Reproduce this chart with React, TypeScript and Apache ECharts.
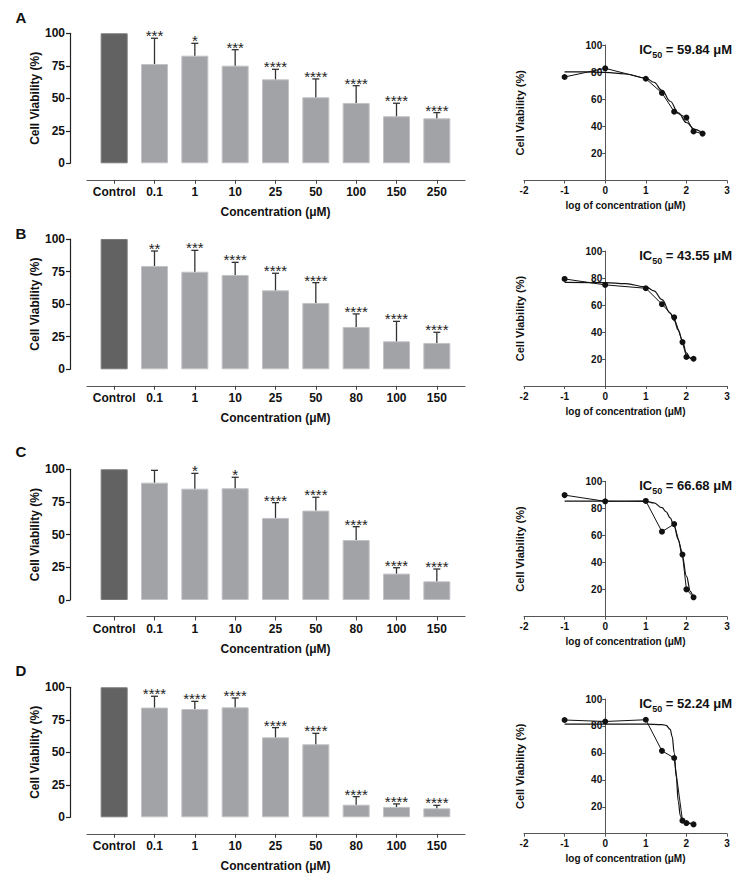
import React, { useEffect, useRef } from "react";
import * as echarts from "echarts";

// ---------- data ----------
const LETTERS = ["A", "B", "C", "D"];
const CATS_A = ["Control", "0.1", "1", "10", "25", "50", "100", "150", "250"];
const CATS_BCD = ["Control", "0.1", "1", "10", "25", "50", "80", "100", "150"];

const MEAN_A = [100, 76.4, 82.8, 75.1, 64.6, 50.8, 46.4, 36.2, 34.6];
const SD_A = [0, 19.8, 9.5, 12.3, 7.7, 14.1, 13.3, 10.0, 4.4];
const STARS_A = ["", "***", "*", "***", "****", "****", "****", "****", "****"];

const MEAN_B = [100, 79.3, 74.9, 72.4, 60.6, 50.9, 32.5, 21.5, 20.2];
const SD_B = [0, 11.5, 16.4, 9.7, 13.1, 15.6, 10.0, 15.3, 8.2];
const STARS_B = ["", "**", "***", "****", "****", "****", "****", "****", "****"];

const MEAN_C = [100, 89.8, 85.2, 85.5, 62.8, 68.4, 45.9, 20.2, 14.3];
const SD_C = [0, 9.4, 11.7, 8.4, 11.7, 10.2, 10.2, 4.5, 9.4];
const STARS_C = ["", "", "*", "*", "****", "****", "****", "****", "****"];

const MEAN_D = [100, 84.4, 83.3, 84.6, 61.5, 56.2, 9.7, 7.9, 6.9];
const SD_D = [0, 8.7, 5.9, 7.2, 7.5, 8.4, 6.2, 2.4, 2.3];
const STARS_D = ["", "****", "****", "****", "****", "****", "****", "****", "****"];

const LOGX_A = [-1, 0, 1, 1.398, 1.699, 2, 2.176, 2.398];
const LOGX_BCD = [-1, 0, 1, 1.398, 1.699, 1.903, 2, 2.176];

const FITX_A = [-1, -0.5, 0, 0.5, 1, 1.2, 1.4, 1.6, 1.8, 2, 2.2, 2.4];
const FITY_A = [80.2, 80.1, 79.8, 78.6, 75.6, 72.5, 66.5, 58.5, 50, 42.8, 37.8, 35];
const FITX_B = [-1, 0, 0.5, 1, 1.2, 1.4, 1.6, 1.7, 1.8, 1.9, 2, 2.1, 2.18];
const FITY_B = [76.8, 76.6, 75.8, 73.5, 70.5, 64, 54, 48.5, 41.5, 33.5, 24.5, 20.5, 18.5];
const FITX_C = [-1, 0, 1, 1.2, 1.4, 1.5, 1.6, 1.7, 1.8, 1.9, 2, 2.1, 2.18];
const FITY_C = [85.3, 85.3, 85.2, 84, 80.5, 77.5, 73, 66.5, 57, 44.5, 30, 18.5, 12.5];
const FITX_D = [-1, 0, 1, 1.4, 1.5, 1.6, 1.65, 1.7, 1.75, 1.8, 1.85, 1.9, 2, 2.18];
const FITY_D = [81.3, 81.3, 81.3, 81, 80.4, 77.5, 72, 60, 42, 24, 13.5, 9.8, 8, 7];

const IC50 = ["59.84", "43.55", "66.68", "52.24"];

// ---------- layout ----------
const FONT = '"Liberation Sans", Arial, sans-serif';
const BAR_GRID = [
  { top: 33.3, h: 130 },
  { top: 239, h: 130.3 },
  { top: 469.3, h: 130.7 },
  { top: 687.3, h: 130 },
];
const IC_LEFT = 524;
const IC_WIDTH = 203;
const IC_XMIN = -2;
const IC_XMAX = 3;
const IC_GRID = [
  { top: 45, h: 135.5 },
  { top: 251, h: 135 },
  { top: 481.3, h: 135.4 },
  { top: 699, h: 134.7 },
];
const LETTER_Y = [17, 233, 451.5, 670.5];

const PANELS = [
  { cats: CATS_A, mean: MEAN_A, sd: SD_A, stars: STARS_A, logx: LOGX_A, fx: FITX_A, fy: FITY_A },
  { cats: CATS_BCD, mean: MEAN_B, sd: SD_B, stars: STARS_B, logx: LOGX_BCD, fx: FITX_B, fy: FITY_B },
  { cats: CATS_BCD, mean: MEAN_C, sd: SD_C, stars: STARS_C, logx: LOGX_BCD, fx: FITX_C, fy: FITY_C },
  { cats: CATS_BCD, mean: MEAN_D, sd: SD_D, stars: STARS_D, logx: LOGX_BCD, fx: FITX_D, fy: FITY_D },
];

function buildOption() {
  const grid: any[] = [];
  const xAxis: any[] = [];
  const yAxis: any[] = [];
  const series: any[] = [];
  const graphic: any[] = [];

  const bold12 = { fontFamily: FONT, fontWeight: "bold", fontSize: 12, color: "#111" };
  const bold10 = { fontFamily: FONT, fontWeight: "bold", fontSize: 10, color: "#111" };
  // y axis of the IC50 plots sits at x = 0
  const zeroOffset = -((0 - IC_XMIN) / (IC_XMAX - IC_XMIN)) * IC_WIDTH;

  PANELS.forEach((p, i) => {
    grid[i] = { left: 94, width: 363, top: BAR_GRID[i].top, height: BAR_GRID[i].h };
    grid[4 + i] = { left: IC_LEFT, width: IC_WIDTH, top: IC_GRID[i].top, height: IC_GRID[i].h };
    grid[8 + i] = { left: 87, width: 378, top: BAR_GRID[i].top, height: BAR_GRID[i].h };
  });

  PANELS.forEach((p, i) => {
    // bar chart axes
    xAxis[i] = {
      gridIndex: i,
      type: "category",
      data: p.cats,
      offset: 16.5,
      axisLine: { show: false, onZero: false },
      axisTick: { show: true, alignWithLabel: true, length: 4, lineStyle: { color: "#444", width: 1 } },
      axisLabel: { ...bold12, margin: 6, interval: 0 },
      splitLine: { show: false },
      name: "Concentration (μM)",
      nameLocation: "middle",
      nameGap: 26,
      nameTextStyle: { ...bold12 },
    };
    yAxis[i] = {
      gridIndex: i,
      type: "value",
      min: 0,
      max: 100,
      interval: 25,
      offset: 24,
      axisLine: { show: true, lineStyle: { color: "#222", width: 1.2 } },
      axisTick: { show: true, length: 4, lineStyle: { color: "#222", width: 1.2 } },
      axisLabel: { ...bold12, margin: 5 },
      splitLine: { show: false },
      name: "Cell Viability (%)",
      nameLocation: "middle",
      nameGap: 29,
      nameTextStyle: { ...bold12 },
    };
    // IC50 axes
    xAxis[4 + i] = {
      gridIndex: 4 + i,
      type: "value",
      min: IC_XMIN,
      max: IC_XMAX,
      interval: 1,
      axisLine: { show: true, onZero: false, lineStyle: { color: "#555", width: 1 } },
      axisTick: { show: true, length: 3, lineStyle: { color: "#555" } },
      axisLabel: { ...bold10, margin: 5 },
      splitLine: { show: false },
      name: "log of concentration (μM)",
      nameLocation: "middle",
      nameGap: 20,
      nameTextStyle: { ...bold10 },
    };
    yAxis[4 + i] = {
      gridIndex: 4 + i,
      type: "value",
      min: 0,
      max: 100,
      interval: 20,
      offset: zeroOffset,
      axisLine: { show: true, onZero: false, lineStyle: { color: "#555", width: 1 } },
      axisTick: { show: true, length: 3, lineStyle: { color: "#555" } },
      axisLabel: { ...bold10, margin: 3, formatter: (v: number) => (v === 0 ? "" : String(v)) },
      splitLine: { show: false },
      name: "Cell Viability (%)",
      nameLocation: "middle",
      nameGap: 79.5,
      nameTextStyle: { ...bold10, fontSize: 11 },
    };
    // decorative long x axis line for bar charts
    xAxis[8 + i] = {
      gridIndex: 8 + i,
      type: "value",
      min: 0,
      max: 1,
      offset: 16.5,
      axisLine: { show: true, onZero: false, lineStyle: { color: "#555", width: 1.2 } },
      axisTick: { show: false },
      axisLabel: { show: false },
      splitLine: { show: false },
    };
    yAxis[8 + i] = { gridIndex: 8 + i, type: "value", min: 0, max: 1, show: false };

    // bars
    series.push({
      type: "bar",
      xAxisIndex: i,
      yAxisIndex: i,
      barWidth: 27,
      silent: true,
      data: p.mean.map((v, j) => ({
        value: v,
        itemStyle:
          j === 0
            ? { color: "#626262", borderColor: "#7a7a7a", borderWidth: 1 }
            : { color: "#a2a3a6", borderColor: "#c2c3c6", borderWidth: 1 },
      })),
    });
    // error bars + significance stars
    series.push({
      type: "custom",
      xAxisIndex: i,
      yAxisIndex: i,
      z: 5,
      silent: true,
      data: p.mean.map((m, j) => [j, m, m + p.sd[j]]),
      renderItem: (params: any, api: any) => {
        const j = params.dataIndex;
        const s = p.stars[j];
        if (!p.sd[j]) return { type: "group", children: [] };
        const base = api.coord([api.value(0), api.value(1)]);
        const top = api.coord([api.value(0), api.value(2)]);
        const children: any[] = [
          { type: "line", shape: { x1: base[0], y1: base[1], x2: top[0], y2: top[1] }, style: { stroke: "#333", lineWidth: 1.3 } },
          { type: "line", shape: { x1: top[0] - 3.5, y1: top[1], x2: top[0] + 3.5, y2: top[1] }, style: { stroke: "#333", lineWidth: 1.3 } },
        ];
        if (s) {
          children.push({
            type: "text",
            x: top[0],
            y: top[1] - 2.5,
            style: { text: s, fill: "#222", fontSize: 15, fontFamily: FONT, align: "center", verticalAlign: "middle" },
          });
        }
        return { type: "group", children };
      },
    });
    // fitted curve
    series.push({
      type: "line",
      xAxisIndex: 4 + i,
      yAxisIndex: 4 + i,
      data: p.fx.map((x, j) => [x, p.fy[j]]),
      smooth: 0.4,
      smoothMonotone: "x",
      showSymbol: false,
      silent: true,
      lineStyle: { color: "#111", width: 1.2 },
    });
    // data points
    series.push({
      type: "line",
      xAxisIndex: 4 + i,
      yAxisIndex: 4 + i,
      data: p.logx.map((x, j) => [x, p.mean[j + 1]]),
      symbol: "circle",
      symbolSize: 6,
      silent: true,
      itemStyle: { color: "#111" },
      lineStyle: { color: "#111", width: 1 },
      z: 4,
    });

    graphic.push({
      type: "text",
      x: 21,
      y: LETTER_Y[i],
      style: { text: LETTERS[i], fill: "#111", fontSize: 15, fontWeight: "bold", fontFamily: FONT, align: "center", verticalAlign: "middle" },
    });
    graphic.push({
      type: "text",
      x: 732,
      y: IC_GRID[i].top + 4.5,
      style: {
        text: "{a|IC}{s|50}{a| = " + IC50[i] + " μM}",
        align: "right",
        verticalAlign: "middle",
        rich: {
          a: { fontSize: 13, fontWeight: "bold", fontFamily: FONT, fill: "#111", lineHeight: 20, verticalAlign: "middle" },
          s: { fontSize: 9, fontWeight: "bold", fontFamily: FONT, fill: "#111", lineHeight: 10, verticalAlign: "bottom" },
        },
      },
    });
  });

  return {
    animation: false,
    backgroundColor: "#ffffff",
    textStyle: { fontFamily: FONT },
    grid,
    xAxis,
    yAxis,
    series,
    graphic,
  };
}

export default function App() {
  const ref = useRef<HTMLDivElement>(null);
  useEffect(() => {
    if (!ref.current) return;
    const chart = echarts.init(ref.current, undefined, { renderer: "svg" });
    chart.setOption(buildOption() as any);
    return () => chart.dispose();
  }, []);
  return (
    <div
      ref={ref}
      style={{ position: "absolute", left: 0, top: 0, width: 743, height: 884, background: "#fff" }}
    />
  );
}
